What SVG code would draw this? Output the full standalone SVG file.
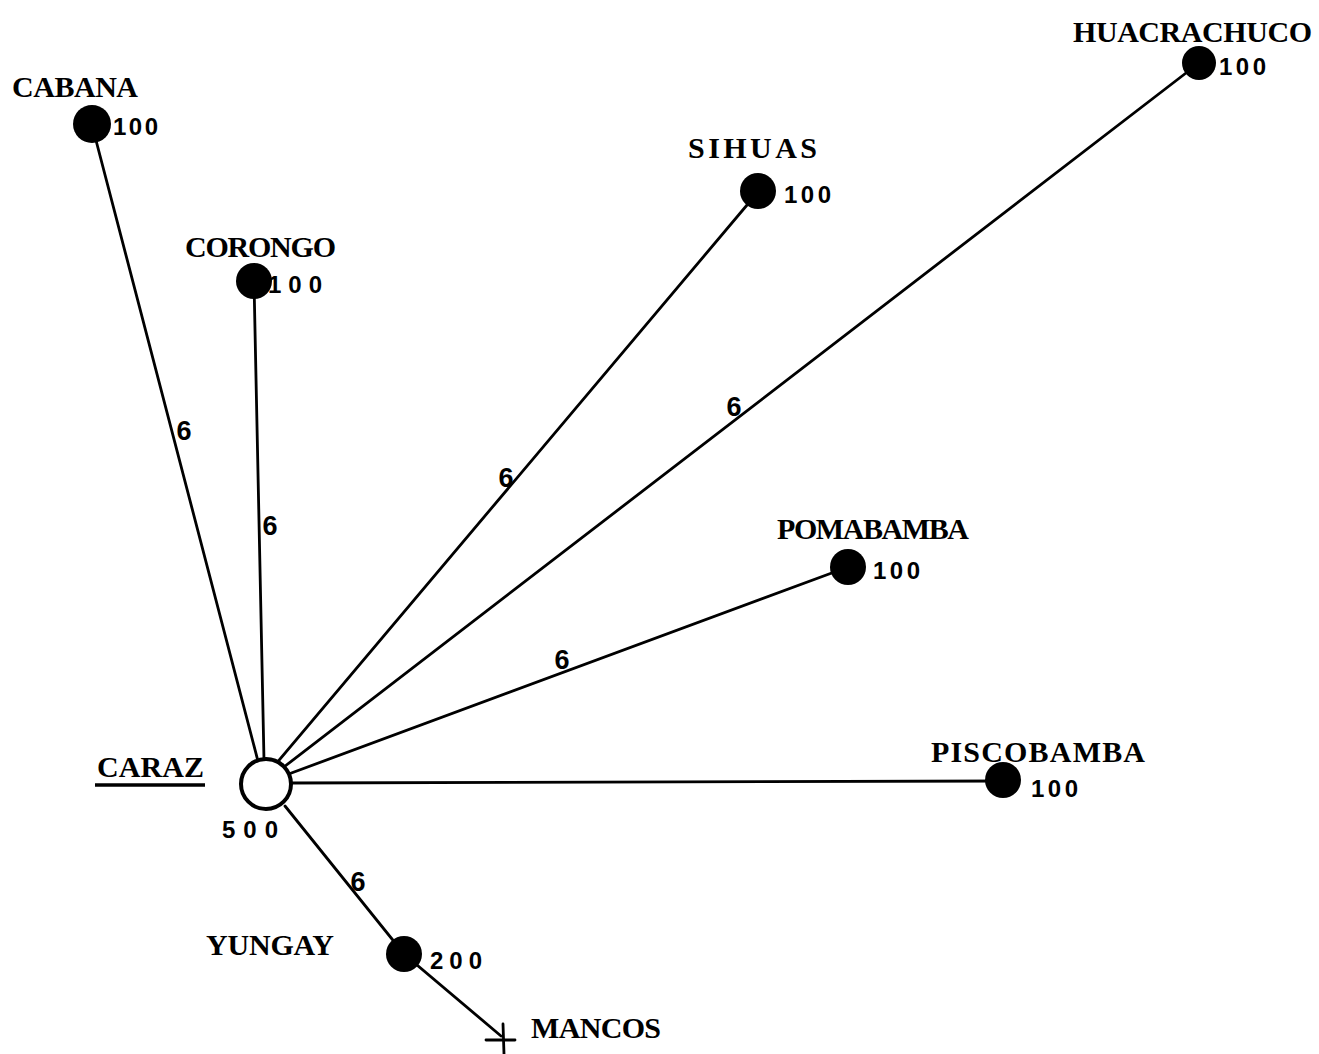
<svg xmlns="http://www.w3.org/2000/svg" width="1319" height="1054" viewBox="0 0 1319 1054">
  <style>
    .edge { stroke: #000; stroke-width: 2.8; fill: none; stroke-linecap: round; }
    .dot { fill: #000; }
    .hub { fill: #fff; stroke: #000; stroke-width: 4; }
    .name { font-family: "Liberation Serif", "DejaVu Serif", serif; font-weight: bold; font-size: 30px; fill: #000; }
    .num { font-family: "Liberation Sans", "DejaVu Sans", sans-serif; font-weight: bold; font-size: 24px; fill: #000; }
    .w { font-family: "Liberation Sans", "DejaVu Sans", sans-serif; font-weight: bold; font-size: 27px; fill: #000; text-anchor: middle; }
  </style>
  <rect width="1319" height="1054" fill="#fff"/>

  <g id="connectors">
    <line class="edge" x1="92" y1="125" x2="259" y2="765"/>
    <line class="edge" x1="254" y1="282" x2="264" y2="760"/>
    <line class="edge" x1="758" y1="192" x2="275" y2="765"/>
    <line class="edge" x1="1199" y1="63" x2="280" y2="770"/>
    <line class="edge" x1="848" y1="567" x2="286" y2="775"/>
    <line class="edge" x1="1003" y1="781" x2="291" y2="783"/>
    <polyline class="edge" points="285,806 404,954 501,1036"/>
    <!-- end mark at Mancos -->
    <line class="edge" x1="486" y1="1040" x2="515" y2="1040"/>
    <line class="edge" x1="503" y1="1024" x2="504" y2="1054"/>
    <text class="w" x="184" y="440">6</text>
    <text class="w" x="270" y="535">6</text>
    <text class="w" x="506" y="487">6</text>
    <text class="w" x="734" y="416">6</text>
    <text class="w" x="562" y="669">6</text>
    <text class="w" x="358" y="891">6</text>
  </g>

  <g id="caraz">
    <circle class="hub" cx="266" cy="784" r="25"/>
    <text class="name" x="97" y="777" textLength="107" lengthAdjust="spacing">CARAZ</text>
    <line x1="95" y1="785" x2="205" y2="785" stroke="#000" stroke-width="3.5"/>
    <text class="num" x="222" y="838" textLength="56" lengthAdjust="spacing">500</text>
  </g>

  <g id="cabana">
    <circle class="dot" cx="92" cy="124" r="19"/>
    <text class="name" x="12" y="97" textLength="126" lengthAdjust="spacing">CABANA</text>
    <text class="num" x="113" y="135" textLength="45" lengthAdjust="spacing">100</text>
  </g>

  <g id="corongo">
    <circle class="dot" cx="254" cy="281" r="18"/>
    <text class="name" x="185" y="257" textLength="151" lengthAdjust="spacing">CORONGO</text>
    <text class="num" x="268" y="293" textLength="54" lengthAdjust="spacing">100</text>
  </g>

  <g id="sihuas">
    <circle class="dot" cx="758" cy="191" r="18"/>
    <text class="name" x="688" y="158" textLength="129" lengthAdjust="spacing">SIHUAS</text>
    <text class="num" x="784" y="203" textLength="47" lengthAdjust="spacing">100</text>
  </g>

  <g id="huacrachuco">
    <circle class="dot" cx="1199" cy="63" r="17"/>
    <text class="name" x="1073" y="42" textLength="239" lengthAdjust="spacing" font-weight="normal">HUACRACHUCO</text>
    <text class="num" x="1219" y="75" textLength="47" lengthAdjust="spacing">100</text>
  </g>

  <g id="pomabamba">
    <circle class="dot" cx="848" cy="567" r="18"/>
    <text class="name" x="777" y="539" textLength="192" lengthAdjust="spacing">POMABAMBA</text>
    <text class="num" x="873" y="579" textLength="47" lengthAdjust="spacing">100</text>
  </g>

  <g id="piscobamba">
    <circle class="dot" cx="1003" cy="780" r="18"/>
    <text class="name" x="931" y="762" textLength="214" lengthAdjust="spacing">PISCOBAMBA</text>
    <text class="num" x="1031" y="797" textLength="47" lengthAdjust="spacing">100</text>
  </g>

  <g id="yungay">
    <circle class="dot" cx="404" cy="954" r="18"/>
    <text class="name" x="206" y="955" textLength="128" lengthAdjust="spacing">YUNGAY</text>
    <text class="num" x="430" y="969" textLength="52" lengthAdjust="spacing">200</text>
  </g>

  <g id="mancos">
    <text class="name" x="531" y="1038" textLength="130" lengthAdjust="spacing">MANCOS</text>
  </g>
</svg>
